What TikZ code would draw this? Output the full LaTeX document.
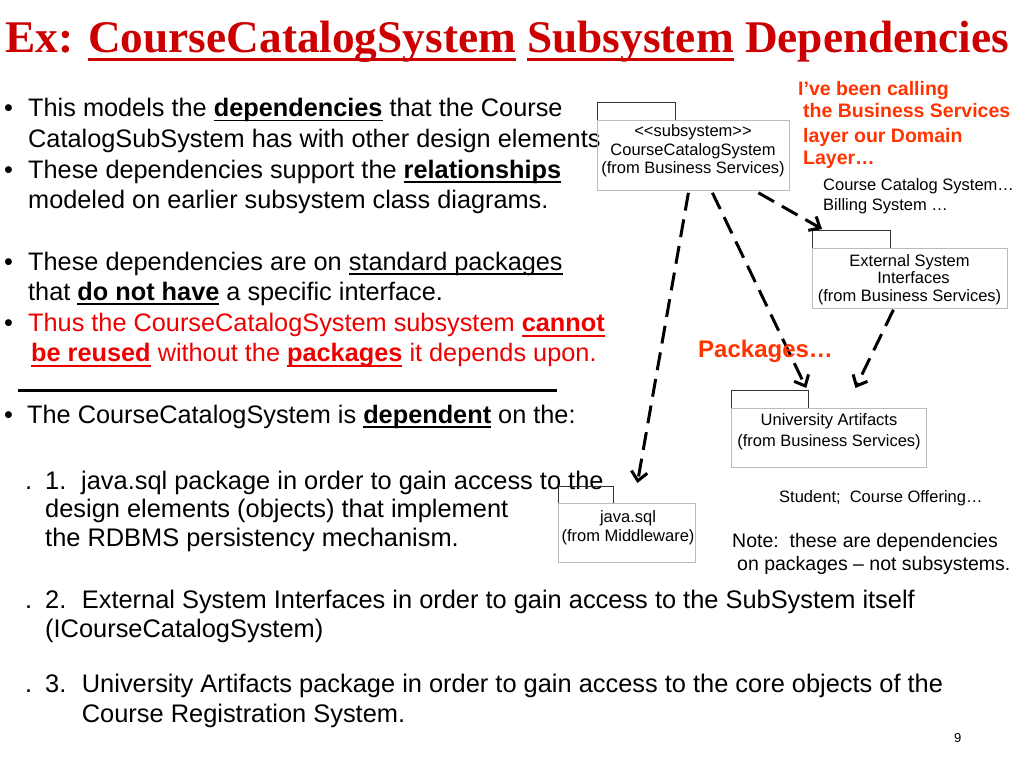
\documentclass[tikz,border=0pt]{standalone}
\usepackage{fontspec}
\setmainfont{Liberation Sans}
\newfontfamily\titlefont{Liberation Serif}
\usetikzlibrary{arrows.meta,calc}
\definecolor{titlered}{HTML}{CC0000}
\definecolor{bodyred}{HTML}{EE0000}
\definecolor{notered}{HTML}{FF3300}
\definecolor{boxgray}{HTML}{BBBBBB}
\definecolor{tabgray}{HTML}{333333}
\newcommand\myul[1]{\setbox0=\hbox{#1}\rlap{\rule[-0.19em]{\wd0}{0.065em}}\box0\relax}
\tikzset{
  txt/.style={anchor=base west, inner sep=0pt, font=\fontsize{25.3}{28}\selectfont},
  subtxt/.style={anchor=base west, inner sep=0pt, font=\fontsize{25.4}{28}\selectfont},
  small/.style={anchor=base west, inner sep=0pt, font=\fontsize{16.5}{19}\selectfont},
  notetxt/.style={anchor=base west, inner sep=0pt, font=\fontsize{19.5}{23}\selectfont},
  redtxt/.style={anchor=base west, inner sep=0pt, text=notered, font=\bfseries\fontsize{19.5}{23}\selectfont},
  tabbox/.style={draw=tabgray, line width=1.2pt, inner sep=0pt, anchor=north west},
  pkgbox/.style={draw=boxgray, line width=0.8pt, inner sep=0pt, anchor=north west},
  boxtxt/.style={align=center, inner sep=0pt, anchor=north, font=\fontsize{16.5}{18.7}\selectfont},
  dep/.style={draw, line width=3pt, dash pattern=on 18pt off 9pt,
    -{Straight Barb[length=9pt,width=16pt]}}
}
\begin{document}
\begin{tikzpicture}[x=1pt,y=-1pt]
\useasboundingbox[fill=white] (0,0) rectangle (1024,768);

% title
\node[anchor=base west, inner sep=0pt, text=titlered,
      font=\titlefont\bfseries\fontsize{45.3}{50}\selectfont] (title) at (5,52.7)
  {Ex: \myul{CourseCatalogSystem} \myul{Subsystem} Dependencies};

% bullets, upper block
\node[txt] (b1) at (4,116.5) {•};
\node[txt] (l1) at (28,116.5) {This models the \myul{\textbf{dependencies}} that the Course};
\node[txt] (l2) at (28,147) {CatalogSubSystem has with other design elements};
\node[txt] (b2) at (4,178) {•};
\node[txt] (l3) at (28,178) {These dependencies support the \myul{\textbf{relationships}}};
\node[txt] (l4) at (28,208) {modeled on earlier subsystem class diagrams.};
\node[txt] (b3) at (4,270) {•};
\node[txt] (l5) at (28,270) {These dependencies are on \myul{standard packages}};
\node[txt] (l6) at (28,300) {that \myul{\textbf{do not have}} a specific interface.};
\node[txt] (b4) at (4,331.7) {•};
\node[txt, text=bodyred] (l7) at (28,331.7) {Thus the CourseCatalogSystem subsystem \myul{\textbf{cannot}}};
\node[txt, text=bodyred] (l8) at (31,361.7) {\myul{\textbf{be reused}} without the \myul{\textbf{packages}} it depends upon.};

\draw[line width=3pt] (18,390) coordinate (r1) -- (557,390) coordinate (r2);

\node[txt] (b5) at (4,423.3) {•};
\node[txt] (l9) at (27,423.3) {The CourseCatalogSystem is \myul{\textbf{dependent}} on the:};

% numbered items
\node[subtxt] (d1) at (25,489.3) {.};
\node[subtxt] (n1) at (45,489.3) {1.};
\node[subtxt] (i1a) at (81,489.3) {java.sql package in order to gain access to the};
\node[subtxt] (i1b) at (45,517) {design elements (objects) that implement};
\node[subtxt] (i1c) at (45,546) {the RDBMS persistency mechanism.};
\node[subtxt] (d2) at (25,608.3) {.};
\node[subtxt] (n2) at (45,608.3) {2.};
\node[subtxt] (i2a) at (81.7,608.3) {External System Interfaces in order to gain access to the SubSystem itself};
\node[subtxt] (i2b) at (45,637) {(ICourseCatalogSystem)};
\node[subtxt] (d3) at (25,692) {.};
\node[subtxt] (n3) at (45,692) {3.};
\node[subtxt] (i3a) at (81.7,692) {University Artifacts package in order to gain access to the core objects of the};
\node[subtxt] (i3b) at (81.7,722) {Course Registration System.};

\node[anchor=base west, inner sep=0pt, font=\fontsize{13}{15}\selectfont] (pg) at (954,742) {9};

% package diagram
\node[tabbox, minimum width=78pt, minimum height=18pt] (ccstab) at (597,102) {};
\node[pkgbox, minimum width=192pt, minimum height=70pt] (ccs) at (597,120) {};
\node[boxtxt] (ccstxt) at (693,124.3) {{<}{<}subsystem{>}{>}\\CourseCatalogSystem\\(from Business Services)};

\node[tabbox, minimum width=78pt, minimum height=18pt] (exttab) at (812,230) {};
\node[pkgbox, minimum width=195pt, minimum height=60pt] (ext) at (812,248) {};
\node[boxtxt, font=\fontsize{16.5}{17.5}\selectfont] (exttxt) at (909.5,254.3) {External System\\\hspace*{8pt}Interfaces\\(from Business Services)};

\node[tabbox, minimum width=77pt, minimum height=18pt] (uatab) at (731,390) {};
\node[pkgbox, minimum width=195pt, minimum height=59pt] (ua) at (731,408) {};
\node[boxtxt, font=\fontsize{16.5}{20.7}\selectfont] (uatxt) at (829,413.5) {University Artifacts\\(from Business Services)};

\node[tabbox, minimum width=55pt, minimum height=17pt] (jtab) at (558,486) {};
\node[pkgbox, minimum width=137pt, minimum height=59pt] (java) at (558,503) {};
\node[boxtxt, font=\fontsize{16.5}{18.4}\selectfont] (jtxt) at (628,510.8) {java.sql\\(from Middleware)};

% dependencies
\draw[dep] ([shift={(-5,2)}]ccs.south) -- ([shift={(10.5,-20)}]java.north);
\draw[dep] ([shift={(19,2)}]ccs.south) -- ([shift={(-3,-2)}]uatab.north east);
\draw[dep] ([shift={(65,2)}]ccs.south) -- ([shift={(10,-1)}]exttab.north west);
\draw[dep] ([shift={(-16.5,1)}]ext.south) -- ([shift={(26.5,-20)}]ua.north);

% annotations
\node[redtxt] (a1) at (798,95) {I’ve been calling};
\node[redtxt] (a2) at (803,117) {the Business Services};
\node[redtxt] (a3) at (803,142) {layer our Domain};
\node[redtxt] (a4) at (803,164) {Layer…};
\node[small] (c1) at (823,190) {Course Catalog System…};
\node[small] (c2) at (823,210) {Billing System …};
\node[anchor=base west, inner sep=0pt, text=notered, font=\bfseries\fontsize{24}{28}\selectfont] (pk) at (698,357) {Packages…};
\node[small] (st) at (779,502) {Student;\ \ Course Offering…};
\node[notetxt] (nt1) at (732,547) {Note:\ \ these are dependencies};
\node[notetxt] (nt2) at (737,570) {on packages – not subsystems.};
\end{tikzpicture}
\end{document}
